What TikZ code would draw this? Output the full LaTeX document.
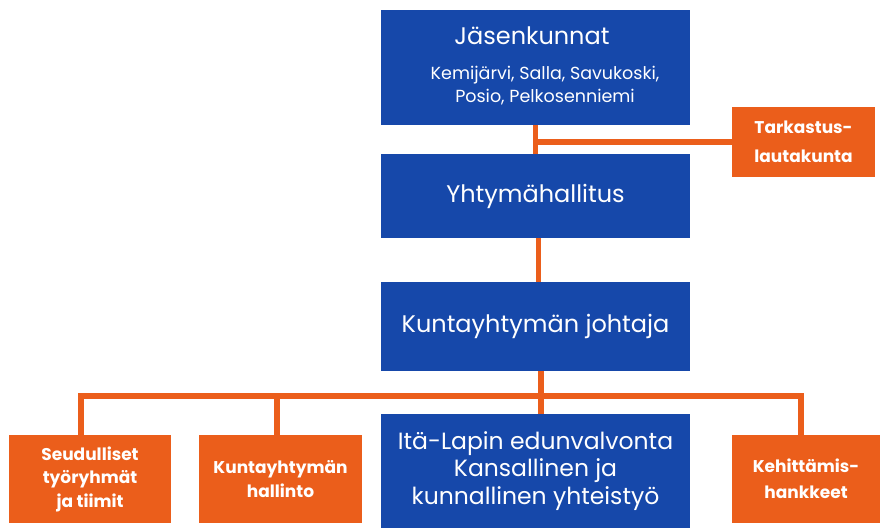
\documentclass[tikz,border=0pt]{standalone}
\usepackage{fontspec}
\setmainfont{Poppins}
\definecolor{bbox}{RGB}{22,72,170}
\definecolor{obox}{RGB}{235,94,27}
\begin{document}
\begin{tikzpicture}[x=1pt,y=-1pt,
  bluebox/.style={fill=bbox,draw=none,text=white,align=center,inner sep=0pt,
    minimum width=309pt,font=\fontsize{24}{27.5}\selectfont},
  orangebox/.style={fill=obox,draw=none,text=white,align=center,inner sep=0pt,
    minimum height=88pt,font=\fontsize{17}{23.5}\selectfont\bfseries},
  conn/.style={draw=obox,line width=5.5pt}]
\useasboundingbox (0,0) rectangle (882,528);
\node[bluebox,minimum height=115pt] (jas) at (535.5,67.5) {};
\node[text=white,font=\fontsize{24}{27}\selectfont] (jast) at (532,36) {Jäsenkunnat};
\node[text=white,align=center,font=\fontsize{17.5}{23}\selectfont] (jass) at (545,86) {Kemijärvi, Salla, Savukoski,\\Posio, Pelkosenniemi};
\node[bluebox,minimum height=84pt] (yht) at (535.5,196) {Yhtymähallitus};
\node[bluebox,minimum height=89pt] (joh) at (535.5,326.5) {Kuntayhtymän johtaja};
\node[bluebox,minimum height=114pt,font=\fontsize{23.5}{27.5}\selectfont] (ita) at (535.5,471) {Itä-Lapin edunvalvonta\\Kansallinen ja\\kunnallinen yhteistyö};
\node[orangebox,minimum width=143pt,minimum height=70pt,font=\fontsize{17}{29}\selectfont\bfseries] (tar) at (803.5,142) {Tarkastus-\\lautakunta};
\node[orangebox,minimum width=162pt] (seu) at (90,479) {Seudulliset\\työryhmät\\ja tiimit};
\node[orangebox,minimum width=163pt] (hal) at (280.5,479) {Kuntayhtymän\\hallinto};
\node[orangebox,minimum width=148pt,font=\fontsize{17}{26}\selectfont\bfseries] (keh) at (806,479) {Kehittämis-\\hankkeet};
\coordinate (bus) at (541,396);
\draw[conn] (jas.south) -- (yht.north);
\draw[conn] (jas.south |- tar.west) -- (tar.west);
\draw[conn] ([xshift=3pt]yht.south) -- ([xshift=3pt]joh.north);
\draw[conn] ([xshift=5.5pt]joh.south) -- ([xshift=5.5pt]ita.north);
\draw[conn] ([xshift=-9pt]seu.north) |- (bus) -| ([xshift=-5pt]keh.north);
\draw[conn] ([xshift=-3.5pt]hal.north) -- ([xshift=-3.5pt]hal.north |- bus);
\end{tikzpicture}
\end{document}
